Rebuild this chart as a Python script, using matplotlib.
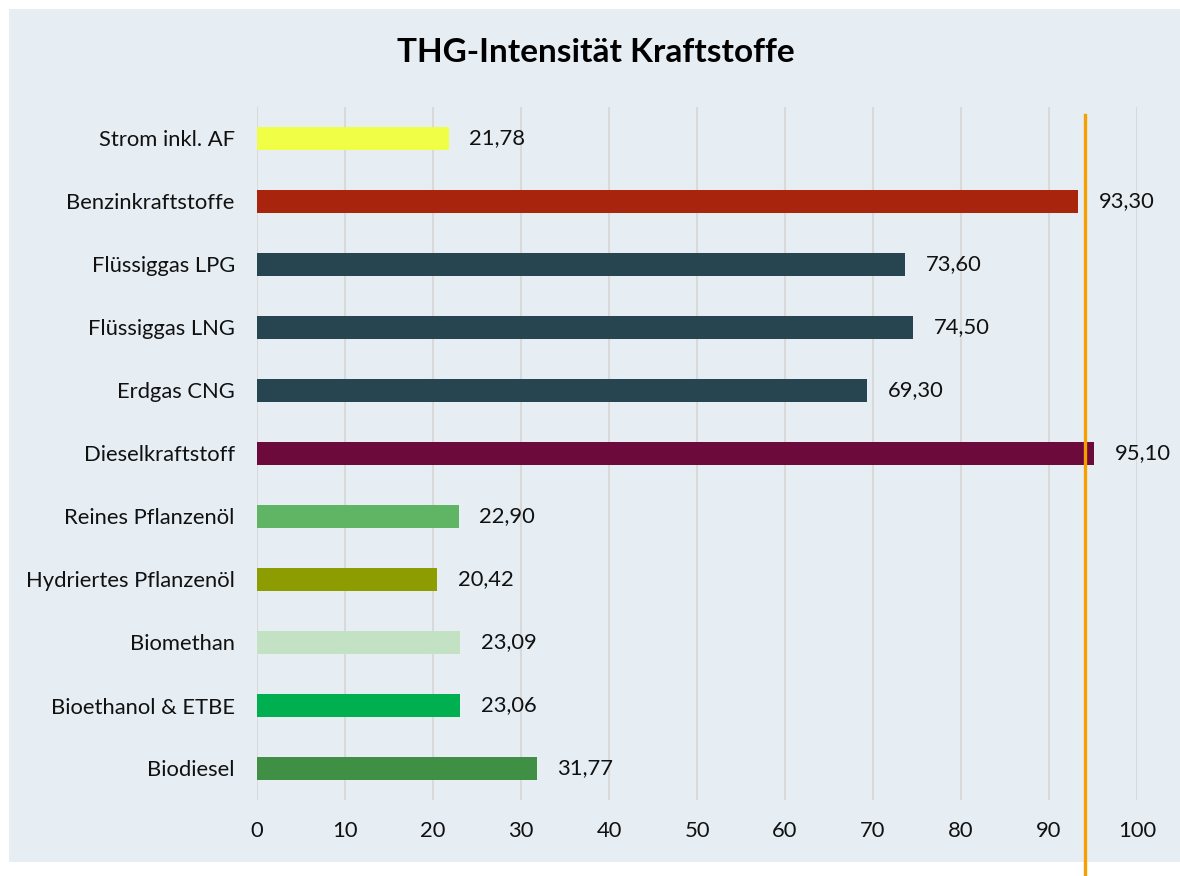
import matplotlib.pyplot as plt
from matplotlib.patches import Rectangle
from matplotlib.transforms import blended_transform_factory

plt.rcParams['font.family'] = ['Lato', 'DejaVu Sans']

# Kraftstoffe von oben nach unten
kraftstoffe = ['Strom inkl. AF', 'Benzinkraftstoffe', 'Flüssiggas LPG', 'Flüssiggas LNG',
               'Erdgas CNG', 'Dieselkraftstoff', 'Reines Pflanzenöl', 'Hydriertes Pflanzenöl',
               'Biomethan', 'Bioethanol & ETBE', 'Biodiesel']
intensitaet = [21.78, 93.30, 73.60, 74.50, 69.30, 95.10, 22.90, 20.42, 23.09, 23.06, 31.77]
farben = ['#F0FF46', '#A8240C', '#274551', '#274551', '#274551', '#6C0A3C',
          '#5FB564', '#8D9C00', '#C3E2C3', '#00B050', '#3F8F45']
x_ticks = [0, 10, 20, 30, 40, 50, 60, 70, 80, 90, 100]
referenzwert = 94.1

bg = '#E6EEF4'
fs = 15.8
fig = plt.figure(figsize=(11.8, 8.76), dpi=100)
fig.patch.set_facecolor('white')
fig.add_artist(Rectangle((9 / 1180, 1 - 862 / 876), 1 - 9 / 1180, (862 - 9) / 876,
                         transform=fig.transFigure, facecolor=bg, edgecolor='none', zorder=0))

ax = fig.add_axes([257 / 1180, 1 - 800 / 876, 880 / 1180, 693 / 876])
ax.set_facecolor('none')

pos = list(range(len(kraftstoffe)))[::-1]
ax.barh(pos, intensitaet, height=0.35, color=farben, zorder=3)

for p, v in zip(pos, intensitaet):
    ax.annotate(f'{v:.2f}'.replace('.', ','), (v, p), xytext=(15, 0),
                textcoords='offset points', va='center', ha='left', fontsize=fs,
                color='#111111')

ax.set_xlim(0, 100)
ax.set_ylim(-0.5, len(kraftstoffe) - 0.5)
ax.set_xticks(x_ticks)
ax.set_yticks(pos)
ax.set_yticklabels(kraftstoffe)
ax.tick_params(axis='both', length=0, labelsize=fs, colors='#111111')
ax.tick_params(axis='y', pad=16)
ax.tick_params(axis='x', pad=15)
ax.grid(axis='x', color='#D9D9D9', linewidth=1.5, zorder=1)
for s in ax.spines.values():
    s.set_visible(False)

# Referenzlinie bei 94,1
tr = blended_transform_factory(ax.transData, fig.transFigure)
ax.plot([referenzwert, referenzwert], [0, 1 - 115 / 876], transform=tr,
        color='#F5A000', linewidth=2.4, clip_on=False, zorder=5)

fig.text(596 / 1180, 1 - 52 / 876, 'THG-Intensität Kraftstoffe', ha='center', va='center',
         fontsize=24, fontweight='bold', color='#000000')

fig.savefig('out.png', dpi=100, facecolor=fig.get_facecolor())
